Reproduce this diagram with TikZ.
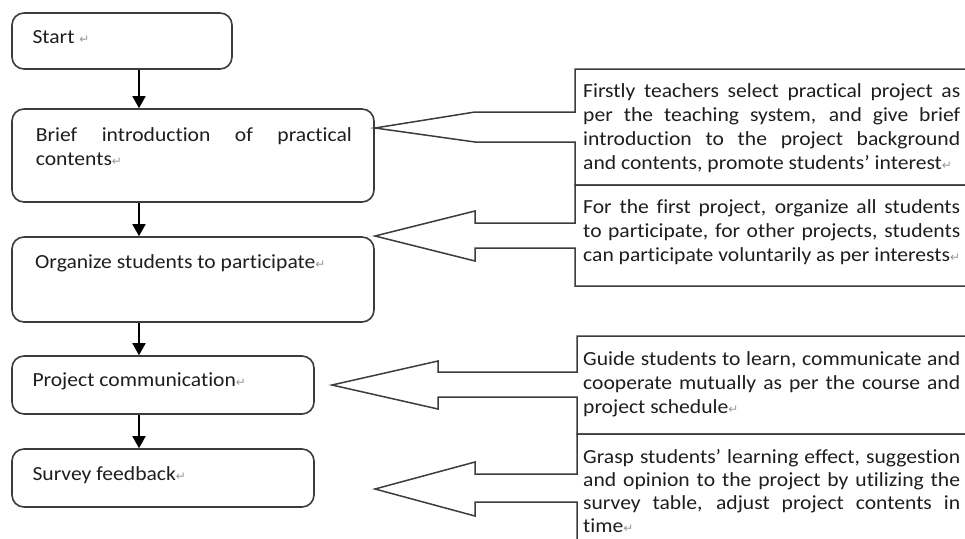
\documentclass[tikz,border=0pt]{standalone}
\usepackage{fontspec}
\setmainfont{Carlito}[FakeStretch=1.08, Ligatures=NoCommon]
\newfontfamily\symfont{DejaVu Sans}
\usetikzlibrary{arrows.meta}
\definecolor{linec}{HTML}{3C3C3C}
\definecolor{textc}{HTML}{1E1E1E}
\newcommand{\parmk}{{\symfont\fontsize{12}{12}\selectfont\color{gray!80}↵}}
\tikzset{
  stepbox/.style={draw=linec, line width=1.6pt, rounded corners=12pt, inner sep=0pt, minimum width=#1},
  flowarr/.style={line width=1.8pt, black, -{Triangle[width=13pt,length=12pt]}},
  callout/.style={draw=linec, line width=1.5pt, fill=white},
  txt/.style={inner sep=0pt, anchor=base west, text=textc, font=\fontsize{20}{24}\selectfont},
  jtxt/.style={txt, text width=#1, align=justify}
}
\begin{document}
\begin{tikzpicture}[x=1pt,y=-1pt]
\fill[white] (0,0) rectangle (965,538);
\useasboundingbox (0,0) rectangle (965,538);
\clip (0,0) rectangle (965,538);

% left flow boxes
\node[stepbox=220pt, minimum height=56pt] (s1) at (122,41) {};
\node[stepbox=362pt, minimum height=93pt] (s2) at (193,155.5) {};
\node[stepbox=362pt, minimum height=85pt] (s3) at (193,279.5) {};
\node[stepbox=302pt, minimum height=58pt] (s4) at (163,385) {};
\node[stepbox=302pt, minimum height=58pt] (s5) at (163,478) {};

\node[txt] (t1) at (32.3,43.3) {Start \parmk};
\node[jtxt=316pt] (t2) at (35.7,141) {Brief introduction of practical\linebreak contents\parmk};
\node[txt] (t3) at (35,268) {Organize students to participate\parmk};
\node[txt] (t4) at (32.3,386.7) {Project communication\parmk};
\node[txt] (t5) at (32.3,480) {Survey feedback\parmk};

% connectors
\coordinate (ax) at (139,0);
\draw[flowarr] (s1.south -| ax) -- (s2.north -| ax);
\draw[flowarr] (s2.south -| ax) -- (s3.north -| ax);
\draw[flowarr] (s3.south -| ax) -- (s4.north -| ax);
\draw[flowarr] (s4.south -| ax) -- (s5.north -| ax);

% callouts
\draw[callout] (1000,69) -- (575,69) -- (575,112) -- (475,112) -- (375,128) -- (475,142) -- (575,142) -- (575,185) -- (1000,185);
\draw[callout] (1000,185) -- (575,185) -- (575,223) -- (475,223) -- (475,211) -- (375,236) -- (475,261) -- (475,248) -- (575,248) -- (575,286) -- (1000,286);
\draw[callout] (1000,336) -- (577,336) -- (577,372) -- (438,372) -- (438,361) -- (332,385) -- (438,409) -- (438,397) -- (577,397) -- (577,434) -- (1000,434);
\draw[callout] (1000,434) -- (577,434) -- (577,474) -- (475,474) -- (475,462) -- (375,489) -- (475,516) -- (475,502) -- (577,502) -- (577,560) -- (1000,560);

\node[jtxt=377pt] (c1) at (583,97.5) {Firstly teachers select practical project as\linebreak per the teaching system, and give brief\linebreak introduction to the project background\linebreak and contents, promote students’ interest\parmk};
\node[jtxt=377pt] (c2) at (583,213) {For the first project, organize all students\linebreak to participate, for other projects, students\linebreak can participate voluntarily as per interests\parmk};
\node[jtxt=377pt] (c3) at (583,365) {Guide students to learn, communicate and\linebreak cooperate mutually as per the course and\linebreak project schedule\parmk};
\node[jtxt=377pt, font=\fontsize{20}{23.2}\selectfont] (c4) at (583,463) {Grasp students’ learning effect, suggestion\linebreak and opinion to the project by utilizing the\linebreak survey table, adjust project contents in\linebreak time\parmk};
\end{tikzpicture}
\end{document}
